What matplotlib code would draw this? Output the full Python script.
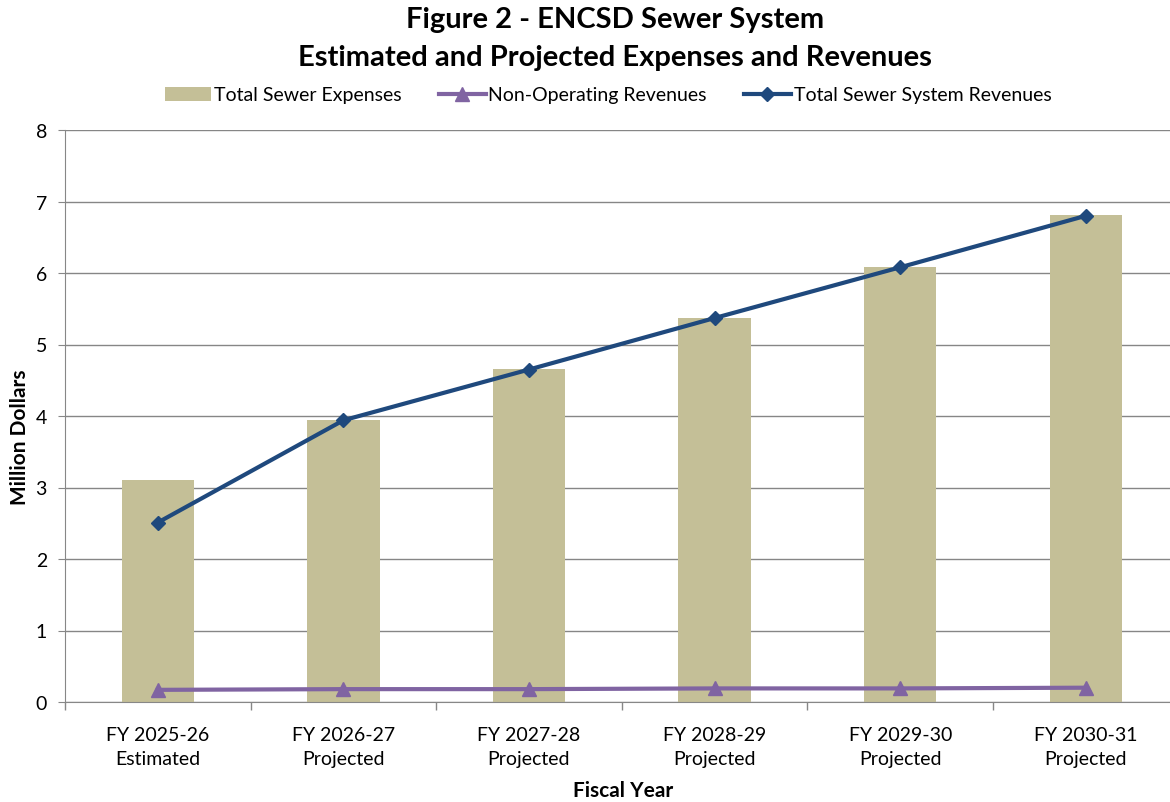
import matplotlib.pyplot as plt
import numpy as np

plt.rcParams['font.family'] = ['Lato', 'DejaVu Sans']

years = ['FY 2025-26\nEstimated', 'FY 2026-27\nProjected', 'FY 2027-28\nProjected',
         'FY 2028-29\nProjected', 'FY 2029-30\nProjected', 'FY 2030-31\nProjected']
expenses = [3.11, 3.95, 4.66, 5.37, 6.09, 6.81]
non_operating = [0.17, 0.18, 0.18, 0.19, 0.19, 0.20]
total_revenues = [2.51, 3.94, 4.65, 5.37, 6.08, 6.80]

fig = plt.figure(figsize=(11.7, 8.03), dpi=100)
ax = fig.add_axes([65 / 1170, 100 / 803, 1113.6 / 1170, 572 / 803])

x = np.arange(len(years))
bars = ax.bar(x, expenses, width=0.39, color='#c4bf97', label='Total Sewer Expenses', zorder=2)
l1, = ax.plot(x, non_operating, color='#8064a2', lw=3, marker='^', ms=10,
              label='Non-Operating Revenues', zorder=3)
l2, = ax.plot(x, total_revenues, color='#1f497d', lw=3, marker='D', ms=7,
              label='Total Sewer System Revenues', zorder=4)

ax.set_xlim(-0.5, len(years) - 0.5)
ax.set_ylim(0, 8)
ax.set_yticks(range(0, 9))
ax.set_xticks(x)
ax.set_xticklabels(years, fontsize=14, linespacing=1.5)
ax.set_xticks(np.arange(-0.5, len(years)), minor=True)
ax.tick_params(axis='x', which='major', length=0, pad=17)
ax.tick_params(axis='x', which='minor', length=6, color='#878787', width=1)
ax.tick_params(axis='y', labelsize=14, length=5, color='#878787', pad=8)
ax.grid(axis='y', color='#868686', lw=1, zorder=0)
for s in ['top', 'right']:
    ax.spines[s].set_visible(False)
for s in ['left', 'bottom']:
    ax.spines[s].set_color('#878787')

fig.text(20 / 1170, 1 - 437 / 803, 'Million Dollars', fontsize=15, fontweight='bold',
         rotation=90, ha='center', va='center')
fig.text(623 / 1170, 1 - 791 / 803, 'Fiscal Year', fontsize=15, fontweight='bold',
         ha='center', va='center')

fig.text(0.526, 1 - 20 / 803, 'Figure 2 - ENCSD Sewer System', fontsize=21,
         fontweight='bold', ha='center', va='center')
fig.text(0.526, 1 - 58 / 803, 'Estimated and Projected Expenses and Revenues', fontsize=21,
         fontweight='bold', ha='center', va='center')
fig.legend([bars, l1, l2], [bars.get_label(), l1.get_label(), l2.get_label()],
           loc='center', bbox_to_anchor=(608 / 1170, 1 - 96 / 803), ncol=3, frameon=False,
           fontsize=14, handlelength=2.4, handletextpad=0.15, columnspacing=1.9)

fig.savefig('out.png', dpi=100)
